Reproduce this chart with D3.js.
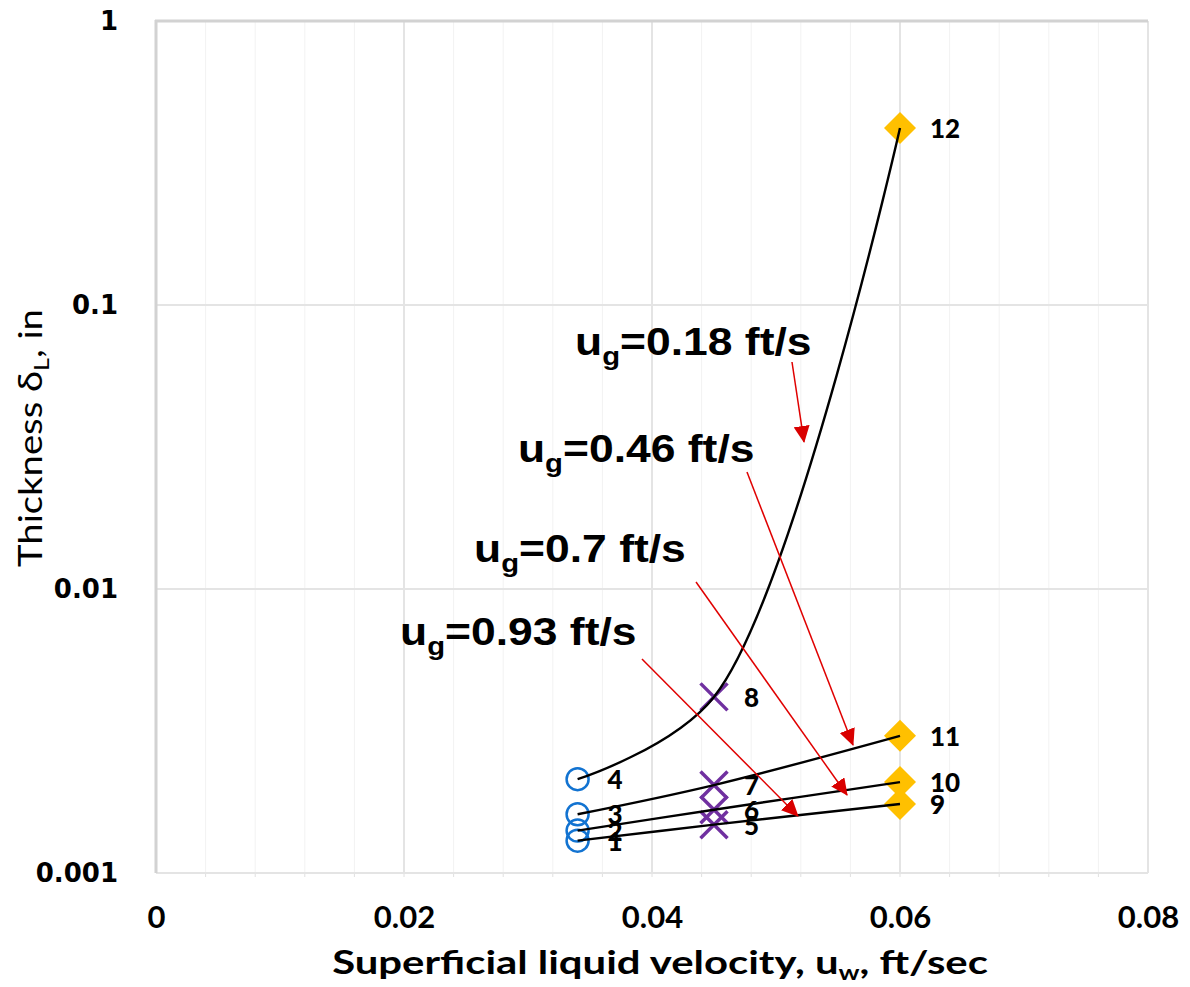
<!DOCTYPE html>
<html><head><meta charset="utf-8">
<script src="https://cdn.jsdelivr.net/npm/d3@7"></script>
<style>body{margin:0;background:#fff;} svg{display:block}</style>
</head><body>
<svg id="chart" width="1190" height="987"></svg>
<script>
// ---- data ----
const uwValues = [0.034, 0.045, 0.06];                 // superficial liquid velocity, ft/s
const ugLabels = ["0.93", "0.7", "0.46", "0.18"];     // gas velocity of each curve, ft/s
const thickUg093 = [0.0013, 0.00148, 0.00175];
const thickUg070 = [0.00141, 0.00167, 0.00209];
const thickUg046 = [0.00161, 0.00204, 0.00304];
const thickUg018 = [0.00214, 0.00417, 0.42];
const pointNumbers = [[1, 5, 9], [2, 6, 10], [3, 7, 11], [4, 8, 12]];
const xTicks = [0, 0.02, 0.04, 0.06, 0.08];
const xTickLabels = ["0", "0.02", "0.04", "0.06", "0.08"];
const yTicks = [0.001, 0.01, 0.1, 1];
const yTickLabels = ["0.001", "0.01", "0.1", "1"];
// annotations (data units): label anchor, arrow start, arrow tip
const annLabelAt = [[0.01968, 0.00635], [0.02565, 0.01245], [0.02919, 0.0280], [0.03379, 0.0667]];
const annArrowFrom = [[0.03919, 0.00567], [0.04355, 0.01058], [0.04766, 0.02582], [0.05129, 0.0630]];
const annArrowTo = [[0.05177, 0.001588], [0.05573, 0.001882], [0.05621, 0.002823], [0.05226, 0.03294]];

const seriesThick = [thickUg093, thickUg070, thickUg046, thickUg018];

// ---- layout ----
const svg = d3.select("#chart");
const L = 156, R = 1148, T = 21, B = 873;
const x = d3.scaleLinear().domain([0, 0.08]).range([L, R]);
const y = d3.scaleLog().domain([0.001, 1]).range([B, T]);

const grid = svg.append("g");
const minor = d3.range(1, 20).map(i => i * 0.004).filter(v => Math.abs(v / 0.02 - Math.round(v / 0.02)) > 1e-6);
grid.selectAll("line.minor").data(minor).join("line")
  .attr("x1", d => x(d)).attr("x2", d => x(d)).attr("y1", T).attr("y2", B)
  .attr("stroke", "#f2f2f2").attr("stroke-width", 1);
grid.selectAll("line.mt").data(d3.range(1, 20).map(i => i * 0.004)).join("line")
  .attr("x1", d => x(d)).attr("x2", d => x(d)).attr("y1", B).attr("y2", B + 4)
  .attr("stroke", "#e0e0e0").attr("stroke-width", 1);
grid.selectAll("line.vmaj").data(xTicks.slice(1)).join("line")
  .attr("x1", d => x(d)).attr("x2", d => x(d)).attr("y1", T).attr("y2", B)
  .attr("stroke", "#e4e4e4").attr("stroke-width", 2);
grid.selectAll("line.hmaj").data(yTicks.slice(1, 3)).join("line")
  .attr("x1", L).attr("x2", R).attr("y1", d => y(d)).attr("y2", d => y(d))
  .attr("stroke", "#e4e4e4").attr("stroke-width", 2);
grid.append("line").attr("x1", L).attr("x2", R).attr("y1", B).attr("y2", B)
  .attr("stroke", "#e4e4e4").attr("stroke-width", 2);
grid.append("line").attr("x1", L - 1).attr("x2", R).attr("y1", y(1)).attr("y2", y(1))
  .attr("stroke", "#d2d2d2").attr("stroke-width", 3);
grid.append("line").attr("x1", L).attr("x2", L).attr("y1", T - 1).attr("y2", B)
  .attr("stroke", "#d2d2d2").attr("stroke-width", 3);

// ---- axes tick labels ----
const yAxis = svg.append("g").attr("transform", `translate(127,0)`)
  .call(d3.axisLeft(y).tickValues(yTicks).tickFormat(d => yTickLabels[yTicks.indexOf(d)]).tickSize(0).tickPadding(9));
yAxis.select(".domain").remove();
yAxis.selectAll("text").attr("font-family", "DejaVu Sans").attr("font-weight", "bold")
  .attr("font-size", 26).attr("fill", "#000");

const xAxis = svg.append("g").attr("transform", `translate(0,${B})`)
  .call(d3.axisBottom(x).tickValues(xTicks).tickFormat(d => xTickLabels[xTicks.indexOf(d)]).tickSize(0).tickPadding(33));
xAxis.select(".domain").remove();
xAxis.selectAll("text").attr("font-family", "Lato").attr("font-weight", "bold")
  .attr("font-size", 31).attr("fill", "#000");

// ---- markers ----
const marks = svg.append("g");
const points = [];
seriesThick.forEach((arr, si) => arr.forEach((t, i) => points.push({ uw: uwValues[i], t, kind: i, n: pointNumbers[si][i] })));

points.forEach(p => {
  const cx = x(p.uw), cy = y(p.t);
  if (p.kind === 0) {
    marks.append("circle").attr("cx", cx).attr("cy", cy).attr("r", 11)
      .attr("fill", "none").attr("stroke", "#1273d1").attr("stroke-width", 2.5);
  } else if (p.kind === 1) {
    const h = 13.5;
    marks.append("path").attr("d", `M${cx - h},${cy - h}L${cx + h},${cy + h}M${cx - h},${cy + h}L${cx + h},${cy - h}`)
      .attr("stroke", "#7030a0").attr("stroke-width", 3.5).attr("fill", "none");
  } else {
    const h = 16;
    marks.append("path").attr("d", `M${cx},${cy - h}L${cx + h},${cy}L${cx},${cy + h}L${cx - h},${cy}Z`)
      .attr("fill", "#ffc000");
  }
});

// ---- curves ----
const line = d3.line().x(d => x(d.uw)).y(d => y(d.t)).curve(d3.curveCatmullRom.alpha(0.5));
seriesThick.forEach(arr => {
  svg.append("path").datum(arr.map((t, i) => ({ uw: uwValues[i], t })))
    .attr("d", line).attr("fill", "none").attr("stroke", "#000").attr("stroke-width", 2.4);
});

// ---- point labels ----
const lbl = svg.append("g");
points.forEach(p => {
  lbl.append("text").attr("x", x(p.uw) + 30).attr("y", y(p.t) + 10)
    .attr("font-family", "Lato").attr("font-weight", "900").attr("font-size", 26)
    .attr("fill", "#000").text(p.n);
});

// ---- annotations ----
const defs = svg.append("defs");
defs.append("marker").attr("id", "ah").attr("markerUnits", "userSpaceOnUse")
  .attr("viewBox", "0 0 17 16").attr("refX", 16).attr("refY", 8)
  .attr("markerWidth", 17).attr("markerHeight", 16).attr("orient", "auto")
  .append("path").attr("d", "M0,0L17,8L0,16Z").attr("fill", "#d90000");

const ann = svg.append("g");
ugLabels.forEach((lab, i) => {
  ann.append("line")
    .attr("x1", x(annArrowFrom[i][0])).attr("y1", y(annArrowFrom[i][1]))
    .attr("x2", x(annArrowTo[i][0])).attr("y2", y(annArrowTo[i][1]))
    .attr("stroke", "#e00000").attr("stroke-width", 1.5).attr("marker-end", "url(#ah)");
  const t = ann.append("text")
    .attr("transform", `translate(${x(annLabelAt[i][0])},${y(annLabelAt[i][1])}) scale(1.17,1)`)
    .attr("font-family", "Liberation Sans").attr("font-weight", "bold").attr("font-size", 38).attr("fill", "#000");
  t.append("tspan").text("u");
  t.append("tspan").attr("font-size", 25).attr("dy", 10).text("g");
  t.append("tspan").attr("dy", -10).text(`=${lab} ft/s`);
});

// ---- axis titles ----
function fitWidth(sel, target, baseTransform) {
  const w = sel.node().getComputedTextLength();
  sel.attr("transform", `${baseTransform} scale(${target / w},1)`);
}
const xt = svg.append("text").attr("text-anchor", "middle")
  .attr("font-family", "Lato").attr("font-weight", "bold").attr("font-size", 32).attr("fill", "#000");
xt.append("tspan").text("Superficial liquid velocity, u");
xt.append("tspan").attr("font-size", 20).attr("dy", 6).text("w");
xt.append("tspan").attr("dy", -6).text(", ft/sec");
fitWidth(xt, 656, "translate(660,974)");

const yt = svg.append("text").attr("text-anchor", "middle")
  .attr("font-family", "Lato").attr("font-weight", "normal").attr("font-size", 32).attr("fill", "#000");
yt.append("tspan").text("Thickness δ");
yt.append("tspan").attr("font-size", 21).attr("dy", 7).text("L");
yt.append("tspan").attr("dy", -7).text(", in");
fitWidth(yt, 258, "translate(42,438) rotate(-90)");
</script>
</body></html>
